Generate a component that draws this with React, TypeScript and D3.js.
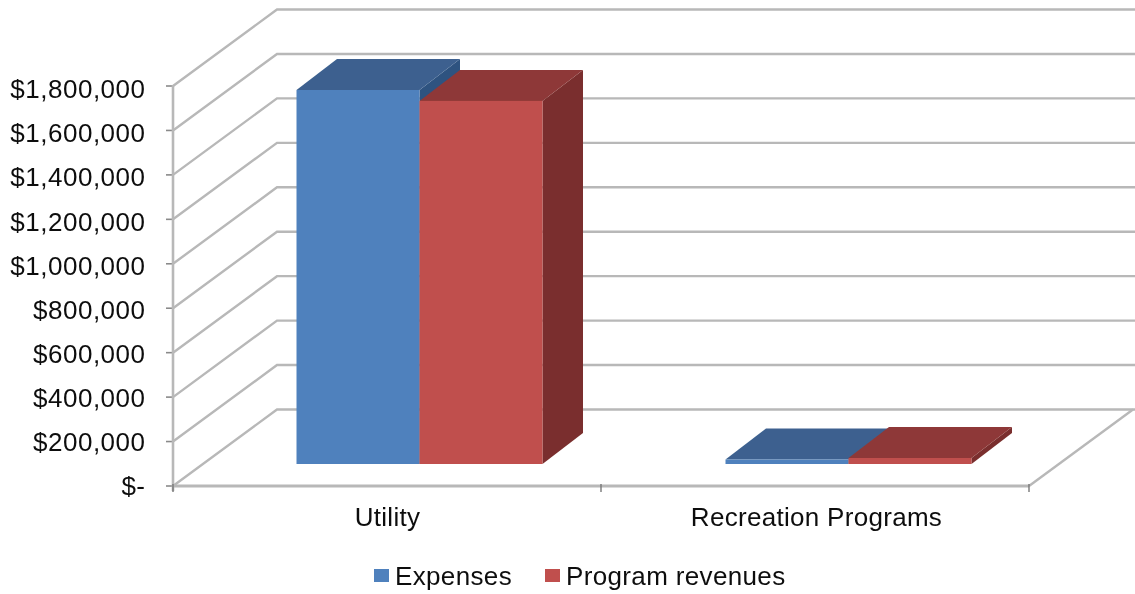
import React from "react";
import * as d3 from "d3";

const categories = ["Utility", "Recreation Programs"];
const seriesNames = ["Expenses", "Program revenues"];
const expenses = [1683000, 20000];
const revenues = [1634000, 27000];
const tickValues = [0, 200000, 400000, 600000, 800000, 1000000, 1200000, 1400000, 1600000, 1800000];
const tickLabels = ["$-", "$200,000", "$400,000", "$600,000", "$800,000", "$1,000,000", "$1,200,000", "$1,400,000", "$1,600,000", "$1,800,000"];

const FONT = "'Liberation Sans', Arial, sans-serif";
const GRID = "#b8b8b8";
const W = 1135, H = 594;
const x0 = 173, x1 = 1029, yZero = 486, yTop = 86;
const backDx = 104, backDy = -76.5;
const frontDx = 32, frontDy = -22;
const barDx = 40.5, barDy = -31;

const y = d3.scaleLinear().domain([0, 1800000]).range([yZero, yTop]);
const yLabel = d3.scaleLinear().domain([0, 1800000]).range([485.5, 89]);
const xBand = d3.scaleBand<string>().domain(categories).range([x0, x1 + 2]).paddingInner(0).paddingOuter(0);
const barW = 123;

const colors = [
  { front: "#4f81bd", top: "#3c618f", side: "#2f5280" },
  { front: "#c0504d", top: "#8e3938", side: "#7a2f2d" },
];

function poly(pts: [number, number][]) {
  return d3.line()(pts)! + "Z";
}

export default function App() {
  const seriesVals = [expenses, revenues];
  return (
    <svg width={W} height={H} style={{ position: "absolute", left: 0, top: 0, background: "#fff" }}>
      <defs>
        <filter id="soft" x="-5%" y="-5%" width="110%" height="110%">
          <feGaussianBlur stdDeviation="0.75" />
        </filter>
        <filter id="softText" x="-5%" y="-20%" width="110%" height="140%">
          <feGaussianBlur stdDeviation="0.4" />
        </filter>
      </defs>
      <g filter="url(#soft)">
        {tickValues.map((v) => (
          <g key={v}>
            <path
              d={d3.line()([[x0, y(v)], [x0 + backDx, y(v) + backDy], [W, y(v) + backDy]])!}
              fill="none"
              stroke={GRID}
              strokeWidth={2.4}
            />
            <line x1={x0 - 7} x2={x0} y1={y(v)} y2={y(v)} stroke="#8a8a8a" strokeWidth={1.6} />
          </g>
        ))}
        <line x1={x0} x2={x0} y1={yTop - 1} y2={yZero + 5} stroke={GRID} strokeWidth={2.6} />
        <line x1={x0} x2={x1} y1={yZero} y2={yZero} stroke={GRID} strokeWidth={3.2} />
        <path
          d={d3.line()([[x1, yZero], [x1 + backDx, yZero + backDy]])!}
          fill="none"
          stroke={GRID}
          strokeWidth={2.4}
        />
        {[x0, x1, (x0 + x1) / 2].map((t) => (
          <line key={t} x1={t} x2={t} y1={yZero - 2} y2={yZero + 6} stroke="#777" strokeWidth={1.4} />
        ))}
        {categories.map((c, ci) => {
          const start = xBand(c)! + (xBand.bandwidth() - 2 * barW) / 2 + frontDx;
          return (
            <g key={c}>
              {[0, 1].map((si) => {
                const left = start + si * barW;
                const right = left + barW;
                const base = y(0) + frontDy;
                const top = base - (y(0) - y(seriesVals[si][ci]));
                const col = colors[si];
                return (
                  <g key={si}>
                    <path
                      d={poly([[right, top], [right + barDx, top + barDy], [right + barDx, base + barDy], [right, base]])}
                      fill={col.side}
                    />
                    <path
                      d={poly([[left, top], [left + barDx, top + barDy], [right + barDx, top + barDy], [right, top]])}
                      fill={col.top}
                    />
                    <rect x={left} y={top} width={barW} height={base - top} fill={col.front} />
                  </g>
                );
              })}
            </g>
          );
        })}
      </g>
      <g filter="url(#softText)" fontFamily={FONT} fontSize={26} fill="#111">
        {tickValues.map((v, i) => (
          <text key={v} x={145.5} y={yLabel(v)} dy="0.36em" textAnchor="end" style={{ letterSpacing: "0.5px" }}>{tickLabels[i]}</text>
        ))}
        {categories.map((c) => (
          <text key={c} x={xBand(c)! + xBand.bandwidth() / 2} y={526} textAnchor="middle" style={{ letterSpacing: "0.3px" }}>{c}</text>
        ))}
        {seriesNames.map((n, i) => {
          const sx = [374, 545][i];
          return (
            <g key={n}>
              <rect x={sx} y={569} width={15} height={13} fill={colors[i].front} />
              <text x={sx + 21} y={585} style={{ letterSpacing: "0.35px" }}>{n}</text>
            </g>
          );
        })}
      </g>
    </svg>
  );
}
